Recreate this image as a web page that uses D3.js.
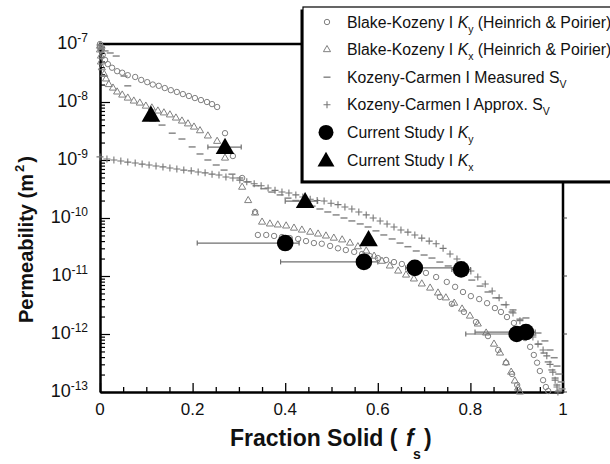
<!DOCTYPE html>
<html>
<head>
<meta charset="utf-8">
<script src="https://cdn.jsdelivr.net/npm/d3@7"></script>
<style>
  html, body { margin: 0; padding: 0; background: #fff; }
  svg { display: block; font-family: "Liberation Sans", Arial, Helvetica, sans-serif; }
</style>
</head>
<body>
<svg id="chart" width="610" height="464"></svg>
<script>
// ---- data: [fraction solid, permeability (m^2)] ----
const bkKy = [
  [0,1e-7],[0,8.9e-8],[0.002,7.9e-8],[0.006,6.5e-8],[0.011,5.3e-8],[0.017,4.5e-8],[0.026,3.9e-8],
  [0.037,3.4e-8],[0.048,3.2e-8],[0.060,2.9e-8],[0.076,2.7e-8],[0.089,2.4e-8],[0.102,2.2e-8],
  [0.114,2.0e-8],[0.127,1.9e-8],[0.140,1.74e-8],[0.153,1.6e-8],[0.166,1.49e-8],[0.179,1.37e-8],
  [0.192,1.27e-8],[0.205,1.17e-8],[0.218,1.08e-8],[0.231,1.0e-8],[0.242,9.2e-9],[0.253,8.2e-9],
  [0.27,2.9e-9],[0.287,1.17e-9],[0.307,4.9e-10],[0.335,1.27e-10],
  [0.341,5.1e-11],[0.359,5.1e-11],[0.376,4.9e-11],[0.393,4.7e-11],[0.410,4.5e-11],[0.428,4.35e-11],
  [0.445,4.0e-11],[0.462,3.7e-11],[0.479,3.6e-11],[0.497,3.3e-11],[0.514,3.0e-11],[0.531,2.8e-11],
  [0.549,2.6e-11],[0.566,2.4e-11],[0.583,2.2e-11],[0.600,2.04e-11],[0.618,1.89e-11],[0.635,1.74e-11],
  [0.652,1.61e-11],[0.670,1.49e-11],[0.687,1.32e-11],[0.704,1.13e-11],[0.726,9.6e-12],[0.749,7.9e-12],
  [0.767,6.5e-12],[0.784,5.3e-12],[0.801,4.5e-12],[0.819,4.0e-12],[0.836,3.4e-12],[0.853,2.8e-12],
  [0.866,2.4e-12],[0.879,1.96e-12],[0.894,1.55e-12],[0.907,1.17e-12],[0.918,8.5e-13],[0.929,6.0e-13],
  [0.937,4.35e-13],[0.944,3.2e-13],[0.950,2.3e-13],[0.957,1.6e-13],[0.963,1.22e-13],[0.968,1.04e-13],
  [0.734,4.35e-12],[0.760,3.3e-12],[0.786,2.4e-12],[0.812,1.61e-12],[0.838,9.2e-13],[0.860,5.3e-13],
  [0.877,3.2e-13],[0.890,2.04e-13],[0.901,1.32e-13]
];

const bkKx = [
  [0,9.2e-8],[0,7.9e-8],[0.002,6.2e-8],[0.002,4.9e-8],[0.004,3.9e-8],[0.009,3.0e-8],[0.013,2.5e-8],
  [0.019,2.0e-8],[0.028,1.74e-8],[0.037,1.49e-8],[0.048,1.32e-8],[0.060,1.17e-8],[0.073,1.04e-8],
  [0.086,9.6e-9],[0.099,8.5e-9],[0.112,7.9e-9],[0.125,7.0e-9],[0.138,6.5e-9],[0.151,6.0e-9],
  [0.164,5.3e-9],[0.177,4.7e-9],[0.190,4.2e-9],[0.203,3.7e-9],[0.216,3.2e-9],[0.233,2.6e-9],[0.253,2.1e-9],
  [0.27,1.08e-9],[0.307,3.4e-10],[0.320,2.0e-10],[0.335,1.22e-10],[0.350,8.5e-11],
  [0.367,7.9e-11],[0.384,7.6e-11],[0.402,7.3e-11],[0.419,6.7e-11],[0.436,6.2e-11],[0.454,5.7e-11],
  [0.471,5.3e-11],[0.488,4.9e-11],[0.505,4.5e-11],[0.523,4.2e-11],[0.540,3.7e-11],[0.557,3.2e-11],
  [0.575,2.7e-11],[0.592,2.2e-11],[0.609,1.8e-11],[0.626,1.49e-11],[0.644,1.22e-11],[0.661,1.04e-11],
  [0.678,8.9e-12],[0.695,7.3e-12],[0.713,6.2e-12],[0.730,5.1e-12],[0.747,4.2e-12],[0.765,3.4e-12],
  [0.782,2.7e-12],[0.799,2.04e-12],[0.816,1.49e-12],[0.834,1.04e-12],[0.851,6.7e-13],[0.864,4.7e-13],
  [0.877,3.2e-13],[0.888,2.2e-13],[0.896,1.55e-13],[0.903,1.17e-13],[0.907,1.0e-13]
];

const kcMeasured = [
  [0,9.6e-8],[0.004,8.5e-8],[0.011,7.6e-8],[0.022,7.0e-8],[0.035,6.2e-8],[0.052,2.8e-8],[0.060,1.9e-8],
  [0.114,4.7e-9],[0.134,4.0e-9],[0.156,2.9e-9],[0.177,2.3e-9],[0.199,1.68e-9],[0.216,1.27e-9],
  [0.233,1.0e-9],[0.251,8.2e-10],[0.268,6.7e-10],[0.285,5.7e-10],[0.302,4.9e-10],[0.320,4.2e-10],
  [0.337,3.6e-10],[0.354,3.2e-10],[0.371,2.8e-10],[0.389,2.5e-10],[0.406,2.2e-10],[0.423,2.0e-10],
  [0.441,1.8e-10],[0.458,1.6e-10],[0.475,1.43e-10],[0.492,1.27e-10],[0.510,1.13e-10],[0.527,1.0e-10],
  [0.544,8.9e-11],[0.562,7.9e-11],[0.579,7.0e-11],[0.596,6.0e-11],[0.613,5.1e-11],[0.631,4.35e-11],
  [0.648,3.7e-11],[0.665,3.2e-11],[0.683,2.7e-11],[0.700,2.3e-11],[0.717,2.04e-11],[0.734,1.74e-11],
  [0.752,1.49e-11],[0.769,1.27e-11],[0.786,1.04e-11],[0.803,8.5e-12],[0.821,6.7e-12],[0.838,5.3e-12],
  [0.855,4.2e-12],[0.873,3.2e-12],[0.890,2.4e-12],[0.907,1.8e-12],[0.922,1.32e-12],[0.935,9.6e-13],
  [0.948,6.7e-13],[0.959,4.7e-13],[0.968,3.3e-13],[0.976,2.4e-13],[0.983,1.74e-13],[0.987,1.32e-13],
  [0.991,1.04e-13],
  [0.892,2.6e-12],[0.920,1.89e-12],[0.946,1.04e-12],[0.961,7.6e-13],[0.972,5.3e-13],[0.981,3.9e-13],
  [0.987,2.8e-13],[0.991,2.04e-13],[0.996,1.49e-13],[0.998,1.13e-13]
];

const kcApprox = [
  [0,1.13e-9],[0.015,1.04e-9],[0.030,1.0e-9],[0.045,9.6e-10],[0.060,9.2e-10],[0.076,8.9e-10],
  [0.091,8.5e-10],[0.106,8.2e-10],[0.121,7.9e-10],[0.136,7.6e-10],[0.151,7.3e-10],[0.166,7.0e-10],
  [0.181,6.7e-10],[0.197,6.5e-10],[0.212,6.2e-10],[0.227,6.0e-10],[0.242,5.7e-10],[0.257,5.5e-10],
  [0.272,5.1e-10],[0.287,4.9e-10],[0.302,4.5e-10],[0.317,4.2e-10],[0.333,3.9e-10],[0.348,3.6e-10],
  [0.363,3.3e-10],[0.378,3.0e-10],[0.393,2.8e-10],[0.408,2.7e-10],[0.423,2.5e-10],[0.438,2.3e-10],
  [0.454,2.1e-10],[0.469,2.0e-10],[0.484,1.96e-10],[0.499,1.8e-10],[0.514,1.7e-10],[0.529,1.55e-10],
  [0.544,1.43e-10],[0.559,1.27e-10],[0.575,1.13e-10],[0.590,1.0e-10],[0.605,8.9e-11],[0.620,7.9e-11],
  [0.635,7.0e-11],[0.650,6.2e-11],[0.665,5.7e-11],[0.680,5.1e-11],[0.695,4.5e-11],[0.711,4.0e-11],
  [0.726,3.6e-11],[0.741,3.0e-11],[0.756,2.4e-11],[0.771,1.96e-11],[0.786,1.55e-11],[0.801,1.22e-11],
  [0.816,9.6e-12],[0.832,7.3e-12],[0.847,5.5e-12],[0.862,4.2e-12],[0.877,3.2e-12],[0.892,2.3e-12],
  [0.907,1.7e-12],[0.922,1.22e-12],[0.935,8.9e-13],[0.946,6.7e-13],[0.957,5.3e-13],[0.965,4.2e-13],
  [0.972,3.0e-13],[0.978,2.2e-13],[0.983,1.6e-13],[0.987,1.22e-13],[0.989,1.0e-13]
];

// current study: fraction solid, permeability, and fraction-solid error range
const studyKyFs = [0.40, 0.57, 0.68, 0.78, 0.90, 0.92];
const studyKyK  = [3.7e-11, 1.75e-11, 1.38e-11, 1.3e-11, 1.0e-12, 1.08e-12];
const studyKyLo = [0.21, 0.39, 0.66, 0.76, 0.79, 0.81];
const studyKyHi = [0.43, 0.60, 0.77, 0.80, 0.92, 0.94];

const studyKxFs = [0.11, 0.27, 0.443, 0.58];
const studyKxK  = [6.0e-9, 1.67e-9, 1.95e-10, 4.3e-11];
const studyKxLo = [null, 0.233, 0.40, null];
const studyKxHi = [null, 0.305, 0.47, null];

// axis ticks
const xTickValues = [0, 0.2, 0.4, 0.6, 0.8, 1];
const xTickLabels = ["0", "0.2", "0.4", "0.6", "0.8", "1"];
const yTickExponents = [-7, -8, -9, -10, -11, -12, -13];

// ---- layout ----
const svg = d3.select("#chart");
const x = d3.scaleLinear().domain([0, 1]).range([100, 563]);
const y = d3.scaleLog().domain([1e-13, 1e-7]).range([392, 44]);

const GREY = "#808080";

// bottom axis (ticks point into the plot)
const xMinor = d3.range(0, 21).map(i => i * 0.05);
const gx = svg.append("g").attr("transform", "translate(0,392)")
  .call(d3.axisBottom(x).tickValues(xMinor).tickSize(-5).tickSizeOuter(0).tickFormat(""));
gx.select(".domain").attr("stroke", "#000").attr("stroke-width", 2.5);
gx.selectAll(".tick line").attr("stroke", "#000").attr("stroke-width", 1.3)
  .filter(d => Math.abs(d * 5 - Math.round(d * 5)) < 1e-6).attr("y2", -9);

// left axis (log ticks point into the plot)
const yMinor = [];
for (let e = -13; e <= -8; e++) for (let m = 1; m <= 9; m++) yMinor.push(m * Math.pow(10, e));
yMinor.push(1e-7);
const gy = svg.append("g").attr("transform", "translate(100,0)")
  .call(d3.axisLeft(y).tickValues(yMinor).tickSize(-5).tickSizeOuter(0).tickFormat(""));
gy.select(".domain").attr("stroke", "#000").attr("stroke-width", 2.5);
gy.selectAll(".tick line").attr("stroke", "#000").attr("stroke-width", 1.2)
  .filter(d => Math.abs(Math.log10(d) - Math.round(Math.log10(d))) < 1e-6).attr("x2", 10);

// top and right frame lines
svg.append("line").attr("x1", x(0) - 1).attr("x2", x(1) + 1).attr("y1", y(1e-7)).attr("y2", y(1e-7))
  .attr("stroke", "#000").attr("stroke-width", 2.5);
svg.append("line").attr("x1", x(1)).attr("x2", x(1)).attr("y1", y(1e-7)).attr("y2", y(1e-13) + 1)
  .attr("stroke", "#000").attr("stroke-width", 2.5);
svg.append("g").selectAll("line").data(yTickExponents.slice(3)).join("line")
  .attr("x1", x(1)).attr("x2", x(1) + 4)
  .attr("y1", e => y(Math.pow(10, e))).attr("y2", e => y(Math.pow(10, e)))
  .attr("stroke", "#444").attr("stroke-width", 1);

// tick labels
svg.append("g").selectAll("text").data(xTickValues).join("text")
  .attr("x", d => x(d)).attr("y", 415)
  .attr("text-anchor", "middle").attr("font-size", 17).attr("fill", "#111")
  .text((d, i) => xTickLabels[i]);

const yl = svg.append("g").selectAll("text").data(yTickExponents).join("text")
  .attr("x", 88).attr("y", e => y(Math.pow(10, e)) + 5)
  .attr("text-anchor", "end").attr("font-size", 18).attr("fill", "#111");
yl.append("tspan").text("10");
yl.append("tspan").attr("dy", -7).attr("font-size", 12).text(e => "-" + Math.abs(e));

// axis titles
const yt = svg.append("text")
  .attr("transform", "translate(33,323) rotate(-90)")
  .attr("font-size", 20).attr("font-weight", "bold").attr("fill", "#111");
yt.append("tspan").text("Permeability (m");
yt.append("tspan").attr("dy", -9).attr("dx", 2).attr("font-size", 13).text("2");
yt.append("tspan").attr("dy", 9).attr("dx", 2).text(")");

const xt = svg.append("text").attr("y", 446)
  .attr("font-size", 23).attr("font-weight", "bold").attr("fill", "#111");
xt.append("tspan").attr("x", 230).text("Fraction Solid (");
xt.append("tspan").attr("x", 406).attr("font-style", "italic").text("f");
xt.append("tspan").attr("x", 413).attr("dy", 13).attr("font-size", 14).text("s");
xt.append("tspan").attr("x", 424).attr("dy", -13).text(")");

// ---- data marks ----
const plot = svg.append("g");

// Kozeny-Carmen, measured Sv: short dashes
plot.append("g").selectAll("line").data(kcMeasured).join("line")
  .attr("x1", d => x(d[0]) - 3.5).attr("x2", d => x(d[0]) + 3.5)
  .attr("y1", d => y(d[1])).attr("y2", d => y(d[1]))
  .attr("stroke", "#888").attr("stroke-width", 1.5);

// Kozeny-Carmen, approximated Sv: plus signs
plot.append("g").selectAll("path").data(kcApprox).join("path")
  .attr("d", d => {
    const px = x(d[0]), py = y(d[1]);
    return `M${px - 3.5},${py}H${px + 3.5}M${px},${py - 3.5}V${py + 3.5}`;
  })
  .attr("stroke", "#777").attr("stroke-width", 1.1).attr("fill", "none");

// Blake-Kozeny Ky: small open circles
plot.append("g").selectAll("circle").data(bkKy).join("circle")
  .attr("cx", d => x(d[0])).attr("cy", d => y(d[1])).attr("r", 2.7)
  .attr("fill", "none").attr("stroke", GREY).attr("stroke-width", 1);

// Blake-Kozeny Kx: small open triangles
const triSmall = d3.symbol().type(d3.symbolTriangle).size(22);
plot.append("g").selectAll("path").data(bkKx).join("path")
  .attr("transform", d => `translate(${x(d[0])},${y(d[1])})`)
  .attr("d", triSmall)
  .attr("fill", "none").attr("stroke", GREY).attr("stroke-width", 1);

// error bars of the current study
const studyKy = studyKyFs.map((f, i) => ({ f, k: studyKyK[i], lo: studyKyLo[i], hi: studyKyHi[i] }));
const studyKx = studyKxFs.map((f, i) => ({ f, k: studyKxK[i], lo: studyKxLo[i], hi: studyKxHi[i] }));
const bars = studyKy.concat(studyKx).filter(d => d.lo !== null);
const eb = plot.append("g").attr("stroke", "#6f6f6f").attr("stroke-width", 1.2);
eb.selectAll("line.bar").data(bars).join("line").attr("class", "bar")
  .attr("x1", d => x(d.lo)).attr("x2", d => x(d.hi))
  .attr("y1", d => y(d.k)).attr("y2", d => y(d.k));
eb.selectAll("line.capl").data(bars).join("line").attr("class", "capl")
  .attr("x1", d => x(d.lo)).attr("x2", d => x(d.lo))
  .attr("y1", d => y(d.k) - 2.5).attr("y2", d => y(d.k) + 2.5);
eb.selectAll("line.caph").data(bars).join("line").attr("class", "caph")
  .attr("x1", d => x(d.hi)).attr("x2", d => x(d.hi))
  .attr("y1", d => y(d.k) - 2.5).attr("y2", d => y(d.k) + 2.5);

// current study markers
plot.append("g").selectAll("circle").data(studyKy).join("circle")
  .attr("cx", d => x(d.f)).attr("cy", d => y(d.k)).attr("r", 8.3).attr("fill", "#000");
const triBig = d3.symbol().type(d3.symbolTriangle).size(150);
plot.append("g").selectAll("path").data(studyKx).join("path")
  .attr("transform", d => `translate(${x(d.f)},${y(d.k) + 1.5})`)
  .attr("d", triBig).attr("fill", "#000");

// ---- legend ----
const lg = svg.append("g");
const LX = 303, LY = 7, LW = 320, LH = 174;
lg.append("rect").attr("x", LX - 2.5).attr("y", LY + 2.5).attr("width", LW).attr("height", LH).attr("fill", "#000");
lg.append("rect").attr("x", LX).attr("y", LY).attr("width", LW).attr("height", LH)
  .attr("fill", "#fff").attr("stroke", "#000").attr("stroke-width", 1.2);

const rowY = i => 22 + i * 27.6;
const symX = 327, textX = 347;

lg.append("circle").attr("cx", symX).attr("cy", rowY(0)).attr("r", 2.7)
  .attr("fill", "none").attr("stroke", GREY).attr("stroke-width", 1);
lg.append("path").attr("transform", `translate(${symX},${rowY(1)})`).attr("d", triSmall)
  .attr("fill", "none").attr("stroke", GREY).attr("stroke-width", 1);
lg.append("line").attr("x1", symX - 3.5).attr("x2", symX + 3.5).attr("y1", rowY(2)).attr("y2", rowY(2))
  .attr("stroke", "#888").attr("stroke-width", 1.5);
lg.append("path").attr("d", `M${symX - 3.5},${rowY(3)}H${symX + 3.5}M${symX},${rowY(3) - 3.5}V${rowY(3) + 3.5}`)
  .attr("stroke", "#777").attr("stroke-width", 1.1);
lg.append("circle").attr("cx", symX - 1).attr("cy", rowY(4)).attr("r", 7.5).attr("fill", "#000");
lg.append("path").attr("transform", `translate(${symX - 1},${rowY(5) + 1.5})`)
  .attr("d", d3.symbol().type(d3.symbolTriangle).size(125)).attr("fill", "#000");

const legendRows = [
  [["Blake-Kozeny I ", ""], ["K", "i"], ["y", "sub"], [" (Heinrich & Poirier)", ""]],
  [["Blake-Kozeny I ", ""], ["K", "i"], ["x", "sub"], [" (Heinrich & Poirier)", ""]],
  [["Kozeny-Carmen I Measured S", ""], ["V", "sub"]],
  [["Kozeny-Carmen I Approx. S", ""], ["V", "sub"]],
  [["Current Study I ", ""], ["K", "i"], ["y", "sub"]],
  [["Current Study I ", ""], ["K", "i"], ["x", "sub"]]
];
legendRows.forEach((parts, i) => {
  const t = lg.append("text").attr("x", textX).attr("y", rowY(i) + 5.5)
    .attr("font-size", 15.8).attr("fill", "#111");
  let shifted = false;
  parts.forEach(([s, kind]) => {
    const ts = t.append("tspan").text(s);
    if (kind === "i") ts.attr("font-style", "italic");
    if (kind === "sub") { ts.attr("dy", 5).attr("font-size", 10.5); shifted = true; }
    else if (shifted) { ts.attr("dy", -5); shifted = false; }
  });
});
</script>
</body>
</html>
